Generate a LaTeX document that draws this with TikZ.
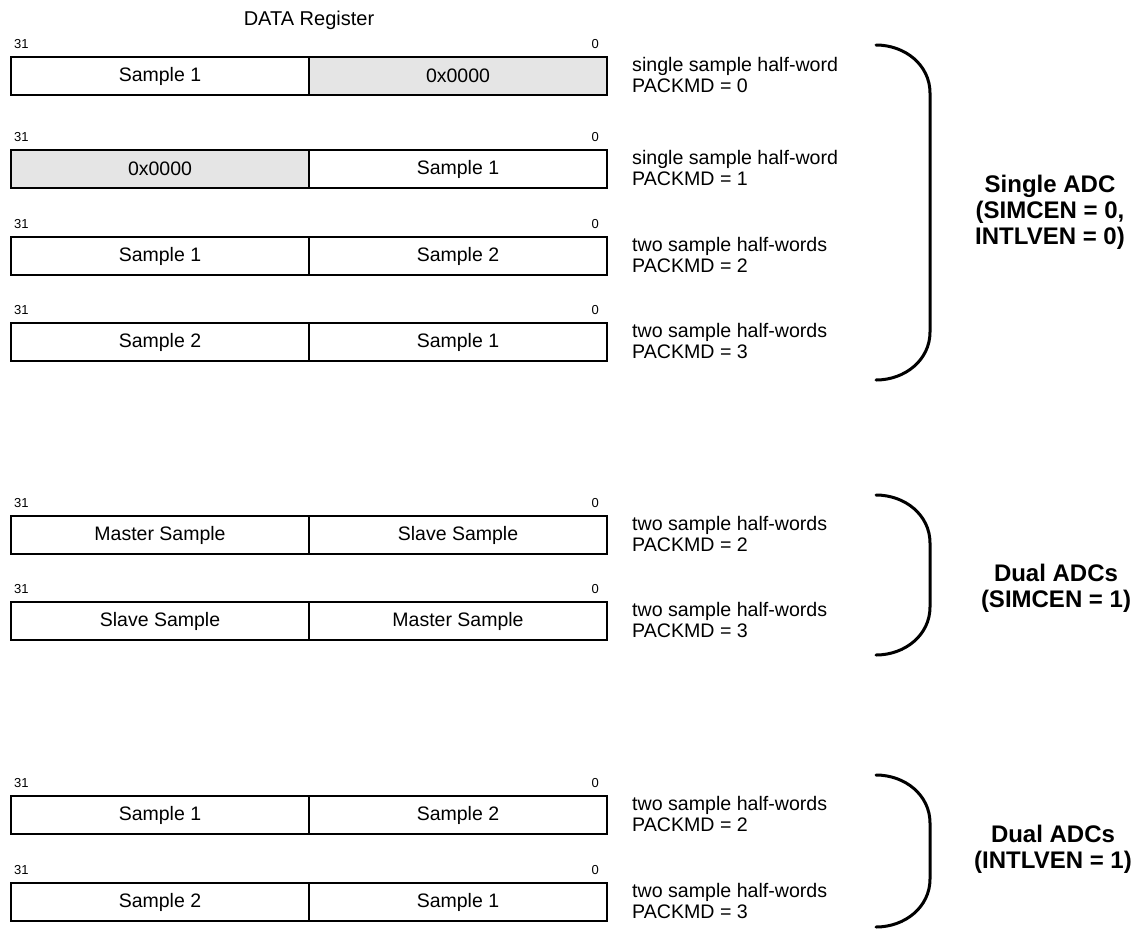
\documentclass[tikz,border=0pt]{standalone}
\usepackage{fontspec}
\setmainfont{Liberation Sans}
\begin{document}
\begin{tikzpicture}[x=1pt,y=-1pt,
  cell/.style={draw=black,line width=2pt,minimum width=298pt,minimum height=38pt,inner sep=0pt,font=\fontsize{19.5}{22}\selectfont,anchor=north west},
  graycell/.style={cell,fill=black!10},
  bitlbl/.style={font=\fontsize{13}{15}\selectfont,inner sep=0pt},
  desc/.style={font=\fontsize{19.6}{21}\selectfont,align=left,anchor=west,inner sep=0pt},
  grp/.style={font=\bfseries\fontsize{24}{26}\selectfont,align=center,inner sep=0pt},
  brace/.style={line width=3pt,line cap=round}]
\useasboundingbox (0,0) rectangle (1137,930);

\node[font=\fontsize{20}{22}\selectfont] (title) at (309,20) {DATA Register};

% row tops
\def\rowA{56}\def\rowB{149}\def\rowC{236}\def\rowD{322}
\def\rowE{515}\def\rowF{601}\def\rowG{795}\def\rowH{882}

% Row 1
\node[cell] (r1a) at (10,\rowA) {Sample 1};
\node[graycell] (r1b) at (308,\rowA) {0x0000};
% Row 2
\node[graycell] (r2a) at (10,\rowB) {0x0000};
\node[cell] (r2b) at (308,\rowB) {Sample 1};
% Row 3
\node[cell] (r3a) at (10,\rowC) {Sample 1};
\node[cell] (r3b) at (308,\rowC) {Sample 2};
% Row 4
\node[cell] (r4a) at (10,\rowD) {Sample 2};
\node[cell] (r4b) at (308,\rowD) {Sample 1};
% Row 5
\node[cell] (r5a) at (10,\rowE) {Master Sample};
\node[cell] (r5b) at (308,\rowE) {Slave Sample};
% Row 6
\node[cell] (r6a) at (10,\rowF) {Slave Sample};
\node[cell] (r6b) at (308,\rowF) {Master Sample};
% Row 7
\node[cell] (r7a) at (10,\rowG) {Sample 1};
\node[cell] (r7b) at (308,\rowG) {Sample 2};
% Row 8
\node[cell] (r8a) at (10,\rowH) {Sample 2};
\node[cell] (r8b) at (308,\rowH) {Sample 1};

% bit labels
\foreach \r in {1,...,8}{
  \node[bitlbl,anchor=south west] (hi\r) at ([xshift=4pt,yshift=7pt]r\r a.north west) {31};
  \node[bitlbl,anchor=south east] (lo\r) at ([xshift=-9pt,yshift=7pt]r\r b.north east) {0};
}

% descriptions
\node[desc] (d1) at ([xshift=24pt,yshift=1.5pt]r1b.east) {single sample half-word\\PACKMD = 0};
\node[desc] (d2) at ([xshift=24pt,yshift=1.5pt]r2b.east) {single sample half-word\\PACKMD = 1};
\node[desc] (d3) at ([xshift=24pt,yshift=1.5pt]r3b.east) {two sample half-words\\PACKMD = 2};
\node[desc] (d4) at ([xshift=24pt,yshift=1.5pt]r4b.east) {two sample half-words\\PACKMD = 3};
\node[desc] (d5) at ([xshift=24pt,yshift=1.5pt]r5b.east) {two sample half-words\\PACKMD = 2};
\node[desc] (d6) at ([xshift=24pt,yshift=1.5pt]r6b.east) {two sample half-words\\PACKMD = 3};
\node[desc] (d7) at ([xshift=24pt,yshift=1.5pt]r7b.east) {two sample half-words\\PACKMD = 2};
\node[desc] (d8) at ([xshift=24pt,yshift=1.5pt]r8b.east) {two sample half-words\\PACKMD = 3};

% braces
\coordinate (b1t) at (876,45);  \coordinate (b1b) at (876,380);
\coordinate (b2t) at (876,495); \coordinate (b2b) at (876,655);
\coordinate (b3t) at (876,775); \coordinate (b3b) at (876,927);
\foreach \t/\b in {b1t/b1b,b2t/b2b,b3t/b3b}{
  \draw[brace] (\t) .. controls ([xshift=29pt]\t) and ([xshift=54pt,yshift=-20pt]\t) .. ([xshift=54pt,yshift=-48pt]\t)
     -- ([xshift=54pt,yshift=48pt]\b) .. controls ([xshift=54pt,yshift=20pt]\b) and ([xshift=29pt]\b) .. (\b);
}

% group labels
\node[grp] (g1) at (1050,212) {Single ADC\\(SIMCEN = 0,\\INTLVEN = 0)};
\node[grp] (g2) at (1056,588) {Dual ADCs\\(SIMCEN = 1)};
\node[grp] (g3) at (1053,849) {Dual ADCs\\(INTLVEN = 1)};
\end{tikzpicture}
\end{document}
